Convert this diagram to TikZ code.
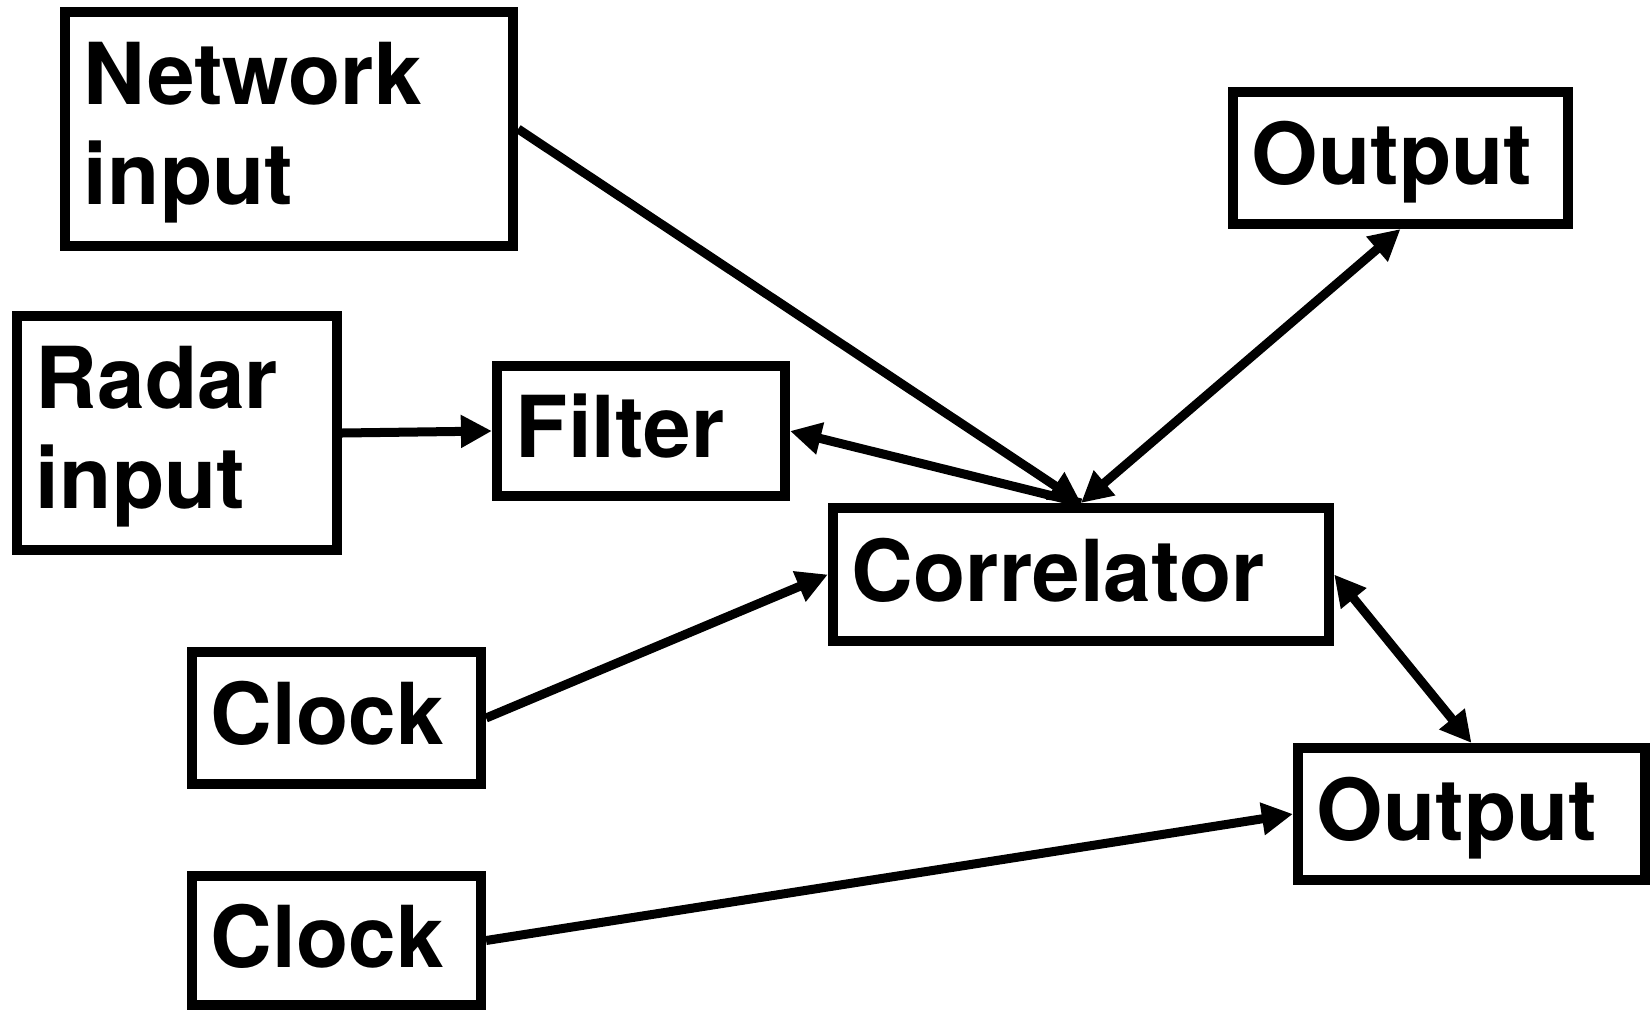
\documentclass[tikz,border=0pt]{standalone}
\usepackage{fontspec}
\setmainfont{TeX Gyre Heros}
\usetikzlibrary{arrows.meta}
\begin{document}
\begin{tikzpicture}[x=0.01cm,y=-0.01cm,
  box/.style={draw, line width=0.1cm, rectangle, inner xsep=0.19cm, inner ysep=0pt,
    align=left, font=\fontsize{24.3}{28.45}\selectfont\bfseries},
  onebox/.style={box, text height=17.5pt, text depth=2.4pt},
  twobox/.style={box, text height=17.5pt, text depth=31.4pt},
  tip/.tip={Triangle[length=0.31cm,width=0.31cm]},
  conn/.style={line width=0.09cm, -tip},
  biconn/.style={line width=0.09cm, tip-tip}
]
\useasboundingbox (0,0) rectangle (1652,1012);

\node[twobox, minimum width=4.48cm, minimum height=2.34cm, text width=4.10cm] (net) at (289,129) {Network\\input};
\node[twobox, minimum width=3.20cm, minimum height=2.34cm, text width=2.82cm] (radar) at (177,433) {Radar\\input};
\node[onebox, minimum width=2.88cm, minimum height=1.30cm, text width=2.50cm] (filter) at (641,431) {Filter};
\node[onebox, minimum width=4.96cm, minimum height=1.33cm, text width=4.58cm] (corr) at (1081,574.5) {Correlator};
\node[onebox, minimum width=3.35cm, minimum height=1.32cm, text width=2.97cm] (out1) at (1400.5,158) {Output};
\node[onebox, minimum width=3.47cm, minimum height=1.32cm, text width=3.09cm] (out2) at (1471.5,814) {Output};
\node[onebox, minimum width=2.89cm, minimum height=1.32cm, text width=2.51cm] (clk1) at (336.5,718) {Clock};
\node[onebox, minimum width=2.89cm, minimum height=1.29cm, text width=2.51cm] (clk2) at (336.5,940.5) {Clock};

\draw[conn] (net.east) -- (corr.north);
\draw[conn] (radar.east) -- (filter.west);
\draw[conn] (corr.north) -- (filter.east);
\draw[biconn] (corr.north) -- (out1.south);
\draw[biconn] (corr.east) -- (out2.north);
\draw[conn] (clk1.east) -- (corr.west);
\draw[conn] (clk2.east) -- (out2.west);
\end{tikzpicture}
\end{document}
